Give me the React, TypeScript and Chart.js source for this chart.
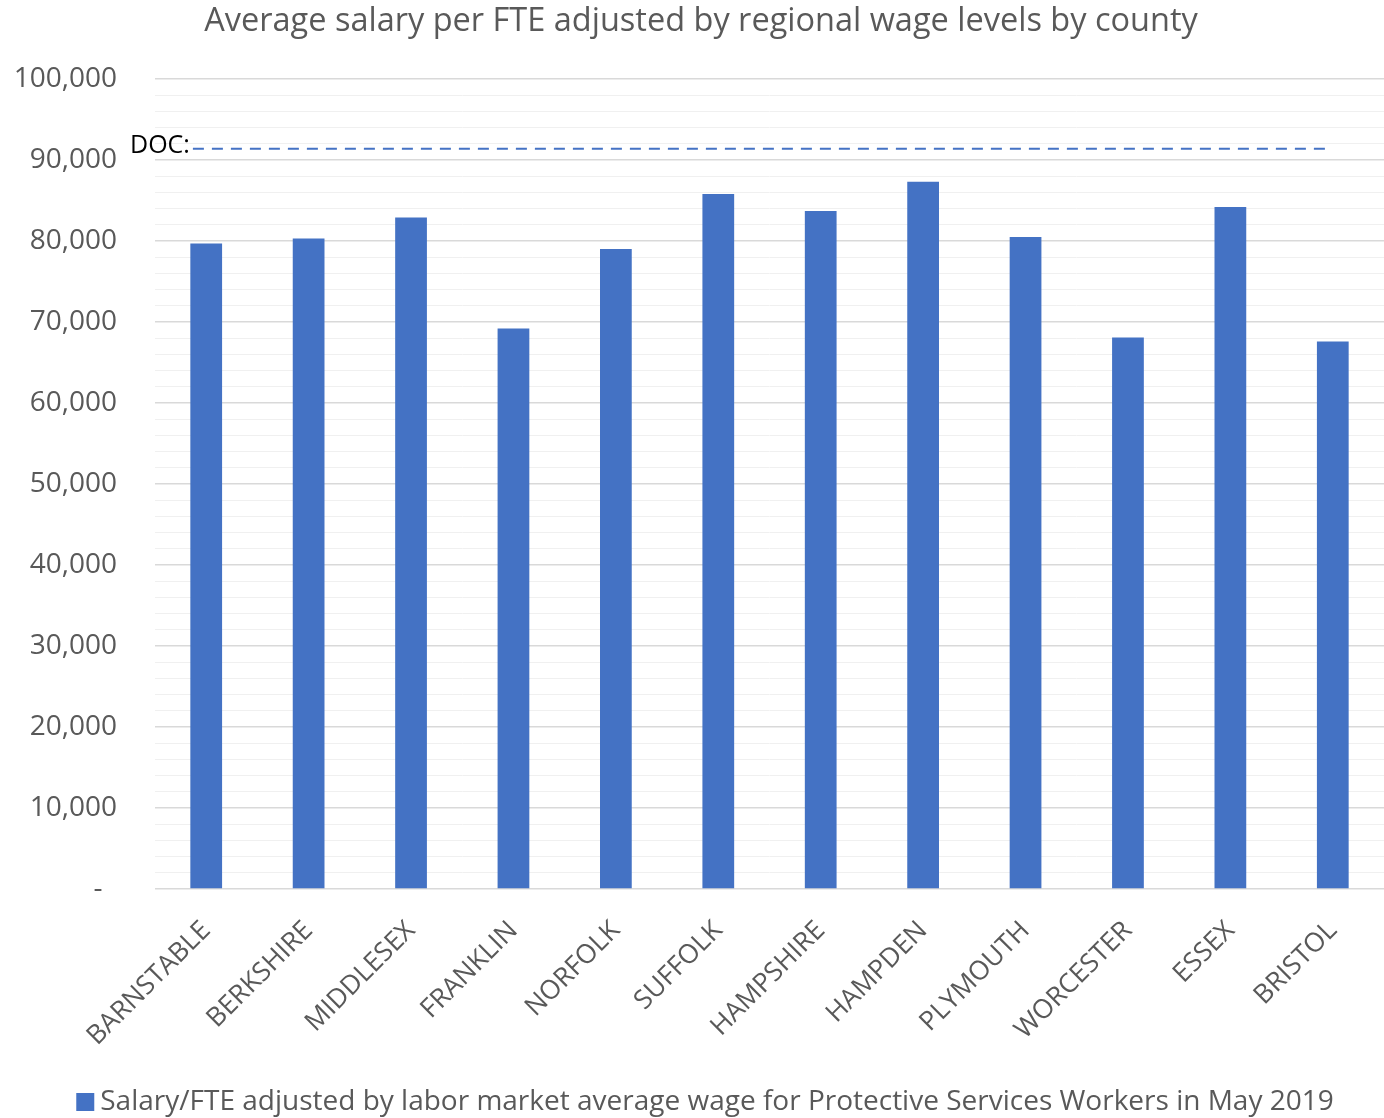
import React, { useEffect, useRef } from "react";
import { Chart, registerables } from "chart.js";

Chart.register(...registerables);

const chartTitle = "Average salary per FTE adjusted by regional wage levels by county";
const seriesLabel =
  "Salary/FTE adjusted by labor market average wage for Protective Services Workers in May 2019";
const categories = [
  "BARNSTABLE",
  "BERKSHIRE",
  "MIDDLESEX",
  "FRANKLIN",
  "NORFOLK",
  "SUFFOLK",
  "HAMPSHIRE",
  "HAMPDEN",
  "PLYMOUTH",
  "WORCESTER",
  "ESSEX",
  "BRISTOL",
];
const salaryValues = [79700, 80300, 82900, 69200, 79000, 85800, 83700, 87300, 80500, 68100, 84200, 67600];
const docValue = 91400;
const docLabel = "DOC:";
const yMin = 0;
const yMax = 100000;
const yMinorStep = 2000;
const yMajorStep = 10000;

const FONT = '"Open Sans", sans-serif';
const BLUE = "#4472C4";
const TEXT = "#595959";

const docLinePlugin = {
  id: "docLine",
  afterDatasetsDraw(chart: any) {
    const { ctx, scales } = chart;
    const x = scales.x;
    const y = scales.y;
    const py = y.getPixelForValue(docValue);
    const band = x.getPixelForValue(1) - x.getPixelForValue(0);
    const x0 = x.getPixelForValue(0) - band * 0.13;
    const x1 = x.getPixelForValue(categories.length - 1);
    ctx.save();
    ctx.strokeStyle = BLUE;
    ctx.lineWidth = 2;
    ctx.setLineDash([11, 8]);
    ctx.beginPath();
    ctx.moveTo(x0, py);
    ctx.lineTo(x1, py);
    ctx.stroke();
    ctx.setLineDash([]);
    ctx.fillStyle = "#000000";
    ctx.font = `25px ${FONT}`;
    ctx.textAlign = "right";
    ctx.textBaseline = "alphabetic";
    ctx.fillText(docLabel, x0 - 3, py + 4);
    ctx.restore();
  },
};

// Title sits slightly right of the canvas centre in the reference.
const shiftTitlePlugin = {
  id: "shiftTitle",
  afterLayout(chart: any) {
    const tb = chart.titleBlock;
    if (tb) {
      tb.left += 9;
      tb.right += 9;
    }
  },
};

// Bottom legend drawn with a tight box-to-text gap like the reference.
const bottomLegendPlugin = {
  id: "bottomLegend",
  afterDraw(chart: any) {
    const ctx = chart.ctx;
    const ds = chart.data.datasets[0];
    const box = 18;
    const gap = 6;
    ctx.save();
    ctx.font = `28px ${FONT}`;
    const tw = ctx.measureText(ds.label).width;
    const total = box + gap + tw;
    const cx = chart.width / 2 + 13;
    const left = cx - total / 2;
    const cy = chart.height - 16;
    ctx.fillStyle = ds.backgroundColor;
    ctx.fillRect(left, cy - box / 2, box, box);
    ctx.fillStyle = TEXT;
    ctx.textAlign = "left";
    ctx.textBaseline = "middle";
    ctx.fillText(ds.label, left + box + gap, cy);
    ctx.restore();
  },
};

export default function App() {
  const canvasRef = useRef<HTMLCanvasElement | null>(null);

  useEffect(() => {
    document.body.style.margin = "0";
    const canvas = canvasRef.current;
    if (!canvas) return;
    const chart = new Chart(canvas, {
      type: "bar",
      data: {
        labels: categories,
        datasets: [
          {
            label: seriesLabel,
            data: salaryValues,
            backgroundColor: BLUE,
            barPercentage: 0.31,
            categoryPercentage: 1,
          },
        ],
      },
      options: {
        animation: false,
        responsive: true,
        maintainAspectRatio: false,
        layout: { padding: { left: 0, right: 0, top: 0, bottom: 34 } },
        font: { family: FONT },
        plugins: {
          title: {
            display: true,
            text: chartTitle,
            color: TEXT,
            font: { family: FONT, size: 32.5, weight: "normal" },
            padding: { top: 2, bottom: 38 },
          },
          legend: { display: false },
          tooltip: { enabled: false },
        },
        scales: {
          x: {
            grid: { display: false },
            border: { display: false },
            ticks: {
              color: TEXT,
              font: { family: FONT, size: 26.5 },
              minRotation: 45,
              maxRotation: 45,
              autoSkip: false,
              padding: 18,
            },
            afterFit(scale: any) {
              scale.height = 195;
            },
          },
          y: {
            min: yMin,
            max: yMax,
            border: { display: false },
            grid: {
              drawTicks: false,
              color: (c: any) => (c.tick && c.tick.value % yMajorStep === 0 ? "#d9d9d9" : "#f0f0f0"),
              lineWidth: (c: any) => (c.tick && c.tick.value % yMajorStep === 0 ? 1.5 : 1),
            },
            ticks: {
              stepSize: yMinorStep,
              autoSkip: false,
              maxTicksLimit: 1000,
              color: TEXT,
              font: { family: FONT, size: 28 },
              padding: 38,
              callback: (v: any) => {
                const n = Number(v);
                if (n === 0) return "-  ";
                if (n % yMajorStep === 0) return n.toLocaleString("en-US");
                return "";
              },
            },
            afterFit(scale: any) {
              scale.width = 155;
            },
          },
        },
      },
      plugins: [docLinePlugin, shiftTitlePlugin, bottomLegendPlugin],
    });
    return () => chart.destroy();
  }, []);

  return (
    <div style={{ width: 1384, height: 1118, position: "relative" }}>
      <canvas ref={canvasRef} />
    </div>
  );
}
